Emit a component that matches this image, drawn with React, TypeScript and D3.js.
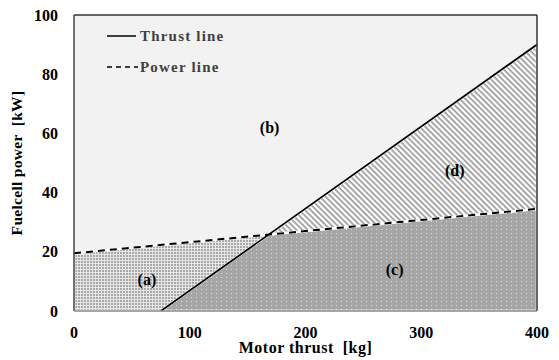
import React from "react";
import * as d3 from "d3";

const xTicks = [0, 100, 200, 300, 400];
const yTicks = [0, 20, 40, 60, 80, 100];
const thrustLine: [number, number][] = [[75, 0], [400, 90]];
const powerLine: [number, number][] = [[0, 19.5], [400, 34.5]];
const regionLabels = ["(a)", "(b)", "(c)", "(d)"];
const regionLabelX = [63, 169, 277, 329];
const regionLabelY = [10.8, 62, 13.9, 47.6];
const legendLabels = ["Thrust line", "Power line"];

const W = 559, H = 360;
const m = { left: 74, top: 15, right: 537, bottom: 311 };

export default function App() {
  const x = d3.scaleLinear().domain([0, 400]).range([m.left, m.right]);
  const y = d3.scaleLinear().domain([0, 100]).range([m.bottom, m.top]);
  const tf = (v: number) => thrustLine[0][1] + (v - thrustLine[0][0]) * (thrustLine[1][1] - thrustLine[0][1]) / (thrustLine[1][0] - thrustLine[0][0]);
  const pf = (v: number) => powerLine[0][1] + (v - powerLine[0][0]) * (powerLine[1][1] - powerLine[0][1]) / (powerLine[1][0] - powerLine[0][0]);
  const sT = (thrustLine[1][1] - thrustLine[0][1]) / (thrustLine[1][0] - thrustLine[0][0]);
  const sP = (powerLine[1][1] - powerLine[0][1]) / (powerLine[1][0] - powerLine[0][0]);
  const ix = (pf(0) - tf(0)) / (sT - sP);
  const iy = pf(ix);
  const line = d3.line<[number, number]>().x(d => x(d[0])).y(d => y(d[1]));
  const polyA: [number, number][] = [[0, 0], [thrustLine[0][0], 0], [ix, iy], [0, pf(0)]];
  const polyC: [number, number][] = [[thrustLine[0][0], 0], [400, 0], [400, pf(400)], [ix, iy]];
  const polyD: [number, number][] = [[ix, iy], [400, pf(400)], [400, tf(400)]];
  const font = "'Liberation Serif', 'Times New Roman', serif";
  return (
    <svg width={W} height={H} style={{ position: "absolute", left: 0, top: 0 }} fontFamily={font}>
      <defs>
        <pattern id="pa" width="3" height="3" patternUnits="userSpaceOnUse">
          <rect width="3" height="3" fill="#e6e6e6" />
          <rect width="2" height="2" fill="#a8a8a8" />
        </pattern>
        <pattern id="pc" width="5" height="4" patternUnits="userSpaceOnUse">
          <rect width="5" height="4" fill="#a6a6a6" />
          <rect x="1" y="1" width="1" height="1" fill="#dcdcdc" />
        </pattern>
        <pattern id="pd" width="4" height="4" patternUnits="userSpaceOnUse" patternTransform="rotate(45)">
          <rect width="4" height="4" fill="#ffffff" />
          <rect width="4" height="1.7" fill="#9a9a9a" />
        </pattern>
        <clipPath id="clip"><rect x={m.left} y={m.top} width={m.right - m.left} height={m.bottom - m.top} /></clipPath>
      </defs>
      <rect x={m.left} y={m.top} width={m.right - m.left} height={m.bottom - m.top} fill="#f2f2f2" />
      <g clipPath="url(#clip)">
        <path d={line(polyA)! + "Z"} fill="url(#pa)" stroke="#fff" strokeWidth={2.5} />
        <path d={line(polyC)! + "Z"} fill="url(#pc)" stroke="#fff" strokeWidth={2.5} />
        <path d={line(polyD)! + "Z"} fill="url(#pd)" stroke="#fff" strokeWidth={2.5} />
        <path d={line(powerLine)!} fill="none" stroke="#000" strokeWidth={2} strokeDasharray="7,5" />
        <path d={line(thrustLine)!} fill="none" stroke="#000" strokeWidth={1.8} />
      </g>
      <line x1={m.left} x2={m.right} y1={m.top} y2={m.top} stroke="#333" strokeWidth={1.5} />
      <line x1={m.right} x2={m.right} y1={m.top} y2={m.bottom} stroke="#333" strokeWidth={1.5} />
      <line x1={m.left} x2={m.left} y1={m.top} y2={m.bottom} stroke="#444" strokeWidth={1.5} />
      <line x1={m.left} x2={m.right} y1={m.bottom} y2={m.bottom} stroke="#888" strokeWidth={1.5} />
      {yTicks.map(t => (
        <text key={t} x={58} y={y(t)} dy="0.35em" textAnchor="end" fontSize={16} fontWeight="bold">{t}</text>
      ))}
      {xTicks.map(t => (
        <text key={t} x={x(t)} y={332} dy="0.35em" textAnchor="middle" fontSize={16} fontWeight="bold">{t}</text>
      ))}
      <text x={(m.left + m.right) / 2} y={353} textAnchor="middle" fontSize={16} fontWeight="bold" letterSpacing={0.5} style={{ whiteSpace: "pre" }}>{"Motor thrust  [kg]"}</text>
      <text transform={`translate(22,${(m.top + m.bottom) / 2}) rotate(-90)`} textAnchor="middle" fontSize={15.5} fontWeight="bold" letterSpacing={0.3} style={{ whiteSpace: "pre" }}>{"Fuelcell power  [kW]"}</text>
      {regionLabels.map((l, i) => (
        <text key={l} x={x(regionLabelX[i])} y={y(regionLabelY[i])} dy="0.35em" textAnchor="middle" fontSize={16} fontWeight="bold">{l}</text>
      ))}
      <line x1={107} x2={136} y1={36} y2={36} stroke="#000" strokeWidth={1.5} />
      <line x1={107} x2={138} y1={67} y2={67} stroke="#000" strokeWidth={1.5} strokeDasharray="5,4" />
      {legendLabels.map((l, i) => (
        <text key={l} x={140} y={36 + i * 31} dy="0.35em" fontSize={15} fontWeight="bold" fill="#404040" letterSpacing={1.2}>{l}</text>
      ))}
    </svg>
  );
}
